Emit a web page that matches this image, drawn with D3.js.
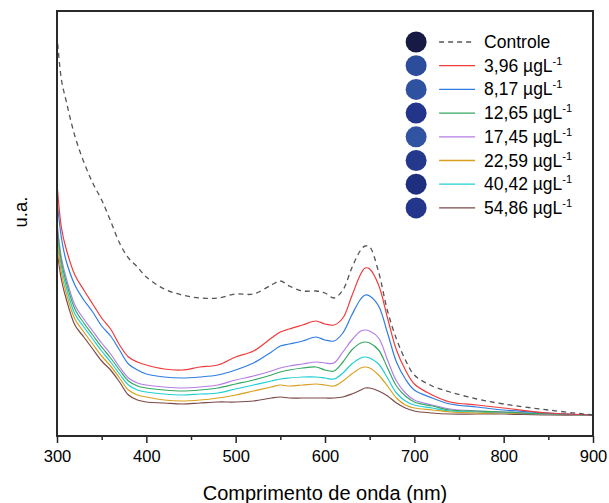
<!DOCTYPE html>
<html>
<head>
<meta charset="utf-8">
<script src="https://cdn.jsdelivr.net/npm/d3@7"></script>
<style>
  body { margin: 0; background: #fff; }
  text { font-family: "Liberation Sans", Arial, sans-serif; fill: #000; }
</style>
</head>
<body>
<svg id="chart"></svg>
<script>
// wavelengths (nm) shared by all spectra
const wavelengths = [300, 305, 310, 320, 330, 340, 350, 360, 370, 380, 390, 400, 420, 440, 460, 480, 500, 520, 540, 550,
  560, 575, 590, 600, 610, 620, 630, 640, 645, 650, 660, 670, 680, 690, 700, 720, 740, 770, 800, 850, 900];

// absorbance (u.a.)
const controle = [1.604, 1.424, 1.344, 1.200, 1.096, 1.012, 0.944, 0.860, 0.772, 0.712, 0.676, 0.636, 0.588, 0.564, 0.552, 0.552, 0.568, 0.568, 0.604, 0.620,
  0.600, 0.580, 0.580, 0.572, 0.552, 0.584, 0.672, 0.744, 0.760, 0.756, 0.656, 0.500, 0.388, 0.304, 0.244, 0.200, 0.176, 0.148, 0.128, 0.104, 0.084];
const c396 = [1.012, 0.832, 0.752, 0.644, 0.584, 0.528, 0.472, 0.428, 0.364, 0.316, 0.296, 0.284, 0.268, 0.264, 0.276, 0.284, 0.316, 0.340, 0.392, 0.416,
  0.428, 0.444, 0.460, 0.448, 0.444, 0.472, 0.560, 0.648, 0.672, 0.668, 0.604, 0.472, 0.344, 0.264, 0.208, 0.164, 0.136, 0.124, 0.112, 0.092, 0.084];
const c817 = [0.944, 0.792, 0.704, 0.604, 0.544, 0.496, 0.440, 0.400, 0.344, 0.288, 0.264, 0.248, 0.236, 0.232, 0.236, 0.244, 0.264, 0.292, 0.336, 0.360,
  0.368, 0.380, 0.396, 0.384, 0.380, 0.412, 0.484, 0.548, 0.564, 0.560, 0.520, 0.412, 0.296, 0.228, 0.184, 0.152, 0.128, 0.116, 0.104, 0.092, 0.084];
const c1265 = [0.840, 0.696, 0.620, 0.508, 0.452, 0.404, 0.356, 0.312, 0.264, 0.220, 0.200, 0.192, 0.184, 0.180, 0.184, 0.192, 0.208, 0.224, 0.244, 0.256,
  0.264, 0.272, 0.276, 0.264, 0.260, 0.296, 0.344, 0.372, 0.376, 0.372, 0.344, 0.272, 0.200, 0.160, 0.136, 0.120, 0.104, 0.100, 0.096, 0.088, 0.084];
const c1745 = [0.856, 0.712, 0.636, 0.524, 0.468, 0.420, 0.372, 0.328, 0.276, 0.232, 0.212, 0.204, 0.196, 0.192, 0.196, 0.204, 0.224, 0.240, 0.260, 0.272,
  0.280, 0.288, 0.296, 0.292, 0.292, 0.336, 0.384, 0.420, 0.424, 0.420, 0.392, 0.304, 0.220, 0.172, 0.144, 0.124, 0.108, 0.100, 0.096, 0.088, 0.084];
const c2259 = [0.784, 0.652, 0.576, 0.468, 0.416, 0.368, 0.320, 0.280, 0.232, 0.184, 0.164, 0.156, 0.144, 0.140, 0.144, 0.152, 0.164, 0.180, 0.196, 0.204,
  0.200, 0.204, 0.208, 0.204, 0.200, 0.220, 0.248, 0.272, 0.276, 0.272, 0.244, 0.200, 0.152, 0.124, 0.112, 0.104, 0.096, 0.092, 0.092, 0.088, 0.084];
const c4042 = [0.816, 0.676, 0.600, 0.488, 0.436, 0.388, 0.340, 0.296, 0.248, 0.204, 0.184, 0.176, 0.168, 0.164, 0.168, 0.172, 0.188, 0.204, 0.220, 0.228,
  0.232, 0.236, 0.236, 0.232, 0.228, 0.252, 0.288, 0.312, 0.316, 0.312, 0.288, 0.232, 0.172, 0.140, 0.124, 0.112, 0.100, 0.096, 0.092, 0.088, 0.084];
const c5486 = [0.744, 0.624, 0.552, 0.444, 0.396, 0.348, 0.300, 0.264, 0.216, 0.164, 0.144, 0.136, 0.132, 0.128, 0.132, 0.136, 0.136, 0.140, 0.152, 0.156,
  0.152, 0.152, 0.152, 0.152, 0.152, 0.156, 0.168, 0.184, 0.192, 0.192, 0.180, 0.160, 0.132, 0.112, 0.100, 0.092, 0.088, 0.088, 0.088, 0.084, 0.084];

const seriesNames = ["Controle", "3,96 µgL", "8,17 µgL", "12,65 µgL", "17,45 µgL", "22,59 µgL", "40,42 µgL", "54,86 µgL"];
const seriesValues = [controle, c396, c817, c1265, c1745, c2259, c4042, c5486];
const lineColors = ["#555555", "#f03b3b", "#2f7de2", "#35a862", "#b57ee6", "#d8a01c", "#1fcfd2", "#7b4a48"];
const sampleColors = ["#161a45", "#2c4c9c", "#2e52a0", "#22358b", "#3154a2", "#24388c", "#1f2f80", "#23368b"];

const xMajor = [300, 400, 500, 600, 700, 800, 900];
const xMinor = [350, 450, 550, 650, 750, 850];

const margin = {top: 11, right: 16, bottom: 67, left: 57};
const W = 609, H = 503;
const width = W - margin.left - margin.right;
const height = H - margin.top - margin.bottom;

const svg = d3.select('#chart')
    .attr('width', W)
    .attr('height', H)
  .append('g')
    .attr('transform', 'translate(' + margin.left + ',' + margin.top + ')');

const x = d3.scaleLinear().domain([300, 900]).range([0, width]);
const y = d3.scaleLinear().domain([0, 1.7]).range([height, 0]);

// spectra
const line = d3.line()
    .x(d => x(d[0]))
    .y(d => y(d[1]))
    .curve(d3.curveCatmullRom.alpha(0.5));

const series = seriesNames.map((name, i) => ({
  name: name,
  color: lineColors[i],
  dashed: i === 0,
  points: wavelengths.map((w, j) => [w, seriesValues[i][j]])
}));

svg.append('g')
  .selectAll('path')
  .data(series.slice().reverse())
  .enter()
  .append('path')
    .attr('d', d => line(d.points))
    .attr('fill', 'none')
    .attr('stroke', d => d.color)
    .attr('stroke-width', d => d.dashed ? 1.3 : 1.2)
    .attr('stroke-dasharray', d => d.dashed ? '5,4' : null);

// x axis, major + minor ticks
const xAxis = svg.append('g')
    .attr('transform', 'translate(0,' + height + ')')
    .call(d3.axisBottom(x).tickValues(xMajor).tickSize(7).tickSizeOuter(0).tickFormat(d3.format('d')));
xAxis.select('.domain').remove();
xAxis.selectAll('line').attr('stroke', '#222').attr('stroke-width', 1.5);
xAxis.selectAll('text').attr('font-size', 16.5).attr('dy', '0.95em').attr('font-family', '"Liberation Sans", Arial, sans-serif');

const xMinorAxis = svg.append('g')
    .attr('transform', 'translate(0,' + height + ')')
    .call(d3.axisBottom(x).tickValues(xMinor).tickSize(4).tickFormat(''));
xMinorAxis.select('.domain').remove();
xMinorAxis.selectAll('line').attr('stroke', '#222').attr('stroke-width', 1.5);

// frame
svg.append('rect')
    .attr('x', 0)
    .attr('y', 0)
    .attr('width', width)
    .attr('height', height)
    .attr('fill', 'none')
    .attr('stroke', '#2a2a2a')
    .attr('stroke-width', 2);

// axis titles
svg.append('text')
    .attr('x', width / 2)
    .attr('y', height + 64)
    .attr('text-anchor', 'middle')
    .attr('font-size', 20)
    .text('Comprimento de onda (nm)');

svg.append('text')
    .attr('transform', 'translate(' + (-30) + ',' + 201 + ') rotate(-90)')
    .attr('text-anchor', 'middle')
    .attr('font-size', 18.5)
    .text('u.a.');

// legend
const legend = svg.append('g')
    .attr('transform', 'translate(' + (x(702)) + ',' + 31 + ')');

const rows = legend.selectAll('g')
    .data(series)
    .enter()
    .append('g')
    .attr('transform', (d, i) => 'translate(0,' + (i * 23.7) + ')');

rows.append('circle')
    .attr('cx', 0)
    .attr('cy', 0)
    .attr('r', 10.5)
    .attr('fill', (d, i) => sampleColors[i]);

rows.append('line')
    .attr('x1', 23)
    .attr('x2', 59)
    .attr('y1', 0)
    .attr('y2', 0)
    .attr('stroke', d => d.color)
    .attr('stroke-width', 1.3)
    .attr('stroke-dasharray', d => d.dashed ? '5,4' : null);

const labels = rows.append('text')
    .attr('x', 68)
    .attr('y', 6)
    .attr('font-size', 17.5)
    .text(d => d.name);

labels.filter((d, i) => i > 0)
  .append('tspan')
    .attr('dy', -7)
    .attr('font-size', 11)
    .text('-1');
</script>
</body>
</html>
